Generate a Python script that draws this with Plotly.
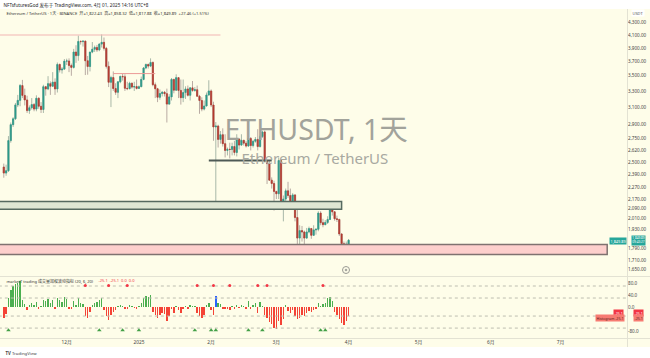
import math
import pandas as pd
import plotly.graph_objects as go

# ---------------- data ----------------
dates = pd.date_range('2024-11-04', '2025-04-01', freq='D')

opens = [2457, 2400, 2422, 2722, 2896, 2962, 3126, 3182, 3370, 3244, 3187, 3058, 3092, 3130, 3076, 3208, 3110, 3071, 3355, 3326, 3395, 3361, 3415, 3326, 3657, 3580, 3592,
         3705, 3707, 3642, 3616, 3838, 3785, 3999, 3996, 4004, 3710, 3628, 3837, 3880, 3907, 3870, 3958, 3985, 3893, 3630, 3413, 3476, 3331, 3283, 3419, 3492, 3487, 3334, 3330, 3400, 3350, 3357,
         3333, 3355, 3451, 3608, 3657, 3634, 3686, 3381, 3328, 3220, 3267, 3283, 3266, 3136, 3225, 3451, 3310, 3475, 3307, 3215, 3280, 3326, 3245, 3340, 3307, 3316, 3233, 3180, 3076, 3113, 3249,
         3300, 3125, 2870, 2880, 2735, 2785, 2690, 2620, 2632, 2630, 2660, 2600, 2740, 2675, 2725, 2695, 2665, 2745, 2670, 2715, 2735, 2660, 2765, 2815, 2515, 2490, 2335, 2305,
         2235, 2215, 2520, 2150, 2170, 2240, 2200, 2140, 2205, 2020, 1865, 1920, 1910, 1865, 1910, 1935, 1885, 1925, 1930, 2055, 1980, 1965, 1982, 2005, 2080, 2065, 2010, 2005, 1895, 1825, 1805,
         1822.43]
highs = [2490, 2480, 2770, 2920, 2980, 3150, 3250, 3390, 3445, 3330, 3240, 3120, 3210, 3150, 3245, 3220, 3160, 3380, 3365, 3495, 3425, 3550, 3465, 3685, 3670, 3620, 3735,
         3740, 3745, 3670, 3885, 3940, 4090, 4015, 4010, 4010, 3780, 3840, 3990, 3935, 3945, 3970, 4109, 4060, 3915, 3700, 3500, 3560, 3400, 3430, 3500, 3525, 3520, 3420, 3420, 3410, 3420, 3450,
         3370, 3490, 3620, 3670, 3670, 3745, 3700, 3410, 3340, 3320, 3300, 3300, 3330, 3260, 3470, 3460, 3520, 3480, 3450, 3450, 3360, 3370, 3350, 3430, 3350, 3370, 3250, 3220, 3180, 3280, 3440,
         3320, 3165, 2925, 2895, 2825, 2855, 2790, 2650, 2700, 2700, 2720, 2790, 2740, 2790, 2730, 2720, 2850, 2760, 2730, 2760, 2845, 2780, 2830, 2830, 2530, 2520, 2360, 2330,
         2240, 2550, 2530, 2200, 2260, 2320, 2260, 2220, 2210, 2150, 1960, 1955, 1920, 1940, 1950, 1940, 1960, 1935, 2070, 2070, 2010, 2000, 2030, 2095, 2104, 2070, 2035, 2010, 1900, 1840, 1840,
         1858.32]
lows = [2357, 2375, 2410, 2700, 2870, 2950, 3100, 3110, 3210, 3120, 3030, 3020, 3070, 3050, 3050, 3080, 3030, 3030, 3240, 3310, 3250, 3350, 3250, 3280, 3545, 3530, 3580,
        3650, 3550, 3500, 3600, 3680, 3710, 3950, 3920, 3510, 3515, 3560, 3820, 3840, 3840, 3850, 3905, 3860, 3600, 3350, 3100, 3300, 3250, 3210, 3400, 3435, 3300, 3310, 3320, 3330, 3300, 3320,
        3330, 3350, 3440, 3590, 3600, 3620, 3360, 3210, 3160, 3190, 3230, 3230, 2920, 3130, 3180, 3270, 3300, 3210, 3130, 3160, 3200, 3230, 3180, 3290, 3290, 3230, 3020, 3050, 3060, 3110, 3240,
        3100, 2720, 2120, 2650, 2690, 2660, 2550, 2570, 2540, 2570, 2570, 2560, 2630, 2670, 2670, 2650, 2660, 2620, 2650, 2700, 2620, 2650, 2750, 2500, 2300, 2330, 2260, 2075,
        2170, 2170, 2110, 1990, 2150, 2180, 2100, 2130, 1990, 1810, 1755, 1840, 1820, 1860, 1900, 1860, 1880, 1890, 1915, 1960, 1945, 1960, 1970, 2000, 2035, 1995, 1985, 1880, 1805, 1765, 1780,
        1817.88]
closes = [2400, 2422, 2722, 2896, 2962, 3126, 3182, 3370, 3244, 3187, 3058, 3092, 3130, 3076, 3208, 3110, 3071, 3355, 3326, 3395, 3361, 3415, 3326, 3657, 3580, 3592, 3705,
          3707, 3642, 3616, 3838, 3785, 3999, 3996, 4004, 3710, 3628, 3837, 3880, 3907, 3870, 3958, 3985, 3893, 3630, 3413, 3476, 3331, 3283, 3419, 3492, 3487, 3334, 3330, 3400, 3350, 3357, 3333,
          3355, 3451, 3608, 3657, 3634, 3686, 3381, 3328, 3220, 3267, 3283, 3266, 3136, 3225, 3451, 3310, 3475, 3307, 3215, 3280, 3326, 3245, 3340, 3307, 3316, 3233, 3180, 3076, 3113, 3249, 3300,
          3125, 2870, 2880, 2735, 2785, 2690, 2620, 2632, 2630, 2660, 2600, 2740, 2675, 2725, 2695, 2665, 2745, 2670, 2715, 2735, 2660, 2765, 2815, 2515, 2490, 2335, 2305, 2235,
          2215, 2520, 2150, 2170, 2240, 2200, 2140, 2205, 2020, 1865, 1920, 1910, 1865, 1910, 1935, 1885, 1925, 1930, 2055, 1980, 1965, 1982, 2005, 2080, 2065, 2010, 2005, 1895, 1825, 1805, 1822,
          1849.89]

hist = [-37, -22, 30, 57, 70, 76, 80, 86, 22, 10, -10, 6, 14, 8, 18, -6, 4, 25, 20, 28, 15, 25, -8, 30, 22, 18, 35,
        28, -5, -8, 20, 8, 30, 15, 10, -30, -37, -15, 8, 12, 18, 25, 30, -10, -30, -42, -25, -15, -10, 5, 8, 4, -8, -6, 6, 3, -4, -6,
        5, 15, 30, 38, 35, 40, -15, -25, -35, -28, -20, -22, -45, -30, -5, -20, 5, -10, -20, -8, 5, -5, 8, 5, 3, -20, -30, -38, -25, 8, 12,
        -10, -27, 37, 15, 10, -5, -8, -6, -10, 5, -8, 8, -4, 8, 5, -5, 20, -6, 8, 12, -20, 18, 5, -25, -35, -50, -58, -70,
        -72, -45, -60, -40, 8, -12, -20, -10, -30, -40, -35, -25, -30, -20, -12, -18, -10, -8, 12, 5, 10, 15, 30, 34, 20, -15, -25, -40, -52, -60, -48,
        -30]
highlight_dates = ['2025-02-03']
sell_dots = ['2024-12-09', '2024-12-19', '2024-12-27', '2025-01-26', '2025-02-02', '2025-02-09', '2025-02-21', '2025-02-25', '2025-03-21']
buy_marks = ['2024-11-06', '2024-12-15', '2024-12-25', '2025-01-01', '2025-01-25', '2025-02-01', '2025-02-03', '2025-02-17', '2025-02-23', '2025-03-20', '2025-03-22']
sell_level = 72
buy_level = -77
guide_levels = [70, 30, -30, -70]

price_ticks = [4300, 4100, 3900, 3700, 3500, 3300, 3100, 2900, 2750, 2620, 2500, 2390, 2270, 2170, 2090, 2010, 1930, 1790, 1710, 1650]
osc_ticks = [80, 40, 0, -80]
month_ticks = ['2024-12-01', '2025-01-01', '2025-02-01', '2025-03-01', '2025-04-01', '2025-05-01', '2025-06-01', '2025-07-01']
month_labels = ['12月', '2025', '2月', '3月', '4月', '5月', '6月', '7月']

support_zone = [1750, 1820]
support_end = '2025-07-21'
resist_zone = [2085, 2150]
resist_end = '2025-03-29'
level_line = [2520, '2025-01-31', '2025-02-27']
top_line = [4100, '2024-10-20', '2025-02-05']
mid_line = [3530, '2024-12-21', '2025-01-08']

# ---------------- geometry helpers ----------------
W, H = 650, 358
def px(x):
    return x / W
def py(y):
    return 1 - y / H

x_range = ['2024-11-02 09:00', '2025-07-29 12:00']
y_range = [math.log10(1610), math.log10(4535)]
far_left = '2024-10-20'
far_right = '2025-08-10'

BG = '#fefde9'
TXT = '#3b3b3b'
FONT = 'Noto Sans, Noto Sans CJK SC, sans-serif'

fig = go.Figure()

# zones
fig.add_trace(go.Scatter(
    x=[far_left, support_end, support_end, far_left, far_left],
    y=[support_zone[0], support_zone[0], support_zone[1], support_zone[1], support_zone[0]],
    fill='toself', fillcolor='#fdcfcc', line=dict(color='#7f7270', width=1.5),
    mode='lines', hoverinfo='skip', xaxis='x', yaxis='y'))
fig.add_trace(go.Scatter(
    x=[far_left, resist_end, resist_end, far_left, far_left],
    y=[resist_zone[0], resist_zone[0], resist_zone[1], resist_zone[1], resist_zone[0]],
    fill='toself', fillcolor='#dfe7d4', line=dict(color='#566a60', width=1.5),
    mode='lines', hoverinfo='skip', xaxis='x', yaxis='y'))
fig.add_trace(go.Scatter(x=[top_line[1], top_line[2]], y=[top_line[0]] * 2, mode='lines',
                         line=dict(color='#f2b6b3', width=1.2), hoverinfo='skip'))
fig.add_trace(go.Scatter(x=[mid_line[1], mid_line[2]], y=[mid_line[0]] * 2, mode='lines',
                         line=dict(color='#ec9a96', width=1), hoverinfo='skip'))
fig.add_trace(go.Scatter(x=[level_line[1], level_line[2]], y=[level_line[0]] * 2, mode='lines',
                         line=dict(color='#4e5a56', width=2.2), hoverinfo='skip'))

# candles: wicks
fig.add_trace(go.Candlestick(
    x=dates, open=opens, high=highs, low=lows, close=closes,
    increasing=dict(line=dict(color='#a9b8a8', width=1), fillcolor='#a9b8a8'),
    decreasing=dict(line=dict(color='#b9aba3', width=1), fillcolor='#b9aba3'),
    whiskerwidth=0, hoverinfo='skip', xaxis='x', yaxis='y'))
# candles: bodies
body_hi = [max(o, c) for o, c in zip(opens, closes)]
body_lo = [min(o, c) for o, c in zip(opens, closes)]
fig.add_trace(go.Candlestick(
    x=dates, open=opens, high=body_hi, low=body_lo, close=closes,
    increasing=dict(line=dict(color='#2b9a8a', width=0.6), fillcolor='#2b9a8a'),
    decreasing=dict(line=dict(color='#b3392e', width=0.6), fillcolor='#b3392e'),
    whiskerwidth=0, hoverinfo='skip', xaxis='x', yaxis='y'))

# oscillator guide lines
for lv in guide_levels:
    fig.add_trace(go.Scatter(x=[far_left, far_right], y=[lv, lv], mode='lines',
                             line=dict(color='#bdbdb0', width=1, dash='dot'),
                             hoverinfo='skip', xaxis='x2', yaxis='y2'))

bar_colors = []
for d, v in zip(dates, hist):
    if d.strftime('%Y-%m-%d') in highlight_dates:
        bar_colors.append('#2962ff')
    elif v >= 0:
        bar_colors.append('#4caf50')
    else:
        bar_colors.append('#f44336')
fig.add_trace(go.Bar(x=dates, y=hist, marker=dict(color=bar_colors, line=dict(width=0)),
                     width=0.62 * 86400000, hoverinfo='skip', xaxis='x2', yaxis='y2'))
fig.add_trace(go.Scatter(x=sell_dots, y=[sell_level] * len(sell_dots), mode='markers',
                         marker=dict(symbol='circle', size=3, color='#f23645'),
                         hoverinfo='skip', xaxis='x2', yaxis='y2'))
fig.add_trace(go.Scatter(x=buy_marks, y=[buy_level] * len(buy_marks), mode='markers',
                         marker=dict(symbol='triangle-up', size=4, color='#43a047'),
                         hoverinfo='skip', xaxis='x2', yaxis='y2'))

# ---------------- layout ----------------
main_dom = [py(276), py(9)]
osc_dom = [py(338), py(277)]
x_dom = [0, px(627)]

shapes = [
    dict(type='rect', xref='paper', yref='paper', x0=0, x1=1, y0=py(347), y1=py(9),
         fillcolor=BG, line=dict(width=0), layer='below'),
    dict(type='line', xref='paper', yref='paper', x0=0, x1=1, y0=py(276.5), y1=py(276.5),
         line=dict(color='#e3e2d3', width=1)),
    dict(type='line', xref='paper', yref='paper', x0=0, x1=1, y0=py(338.5), y1=py(338.5),
         line=dict(color='#e3e2d3', width=1)),
    dict(type='line', xref='paper', yref='paper', x0=px(627.5), x1=px(627.5), y0=py(347), y1=py(9),
         line=dict(color='#e3e2d3', width=1)),
    dict(type='circle', xref='paper', yref='paper', x0=px(342.5), x1=px(349.5), y0=py(273.5), y1=py(266.5),
         line=dict(color='#9a9a94', width=1)),
    dict(type='circle', xref='paper', yref='paper', x0=px(345), x1=px(347), y0=py(271), y1=py(269),
         fillcolor='#9a9a94', line=dict(color='#9a9a94', width=0.5)),
]

def ann(x, y, text, size=4.5, color=TXT, xanchor='left', bg=None, **kw):
    d = dict(xref='paper', yref='paper', x=px(x), y=py(y), text=text, showarrow=False,
             xanchor=xanchor, yanchor='middle', font=dict(size=size, color=color, family=FONT),
             borderpad=0.5)
    if bg:
        d['bgcolor'] = bg
    d.update(kw)
    return d

annotations = [
    ann(2, 4.5, 'NFTsfuturesGod 发布于 TradingView.com, 4月 01, 2025 14:16 UTC+8', size=4.6, color='#222'),
    ann(5, 13, 'Ethereum / TetherUS · 1天 · BINANCE  开=1,822.43  高=1,858.32  低=1,817.88  收=1,849.89  +27.46 (+1.51%)',
        size=4.1, color='#333'),
    ann(316, 128, 'ETHUSDT, 1天', size=28.5, color='#a2a39b', xanchor='center'),
    ann(315, 158, 'Ethereum / TetherUS', size=15, color='#a8a9a1', xanchor='center'),
    ann(638, 13, 'USDT', size=4, color='#555', xanchor='center', bg='#ffffff'),
    ann(618, 240.5, '1,849.89', size=3.8, color='#ffffff', xanchor='center', bg='#26a69a'),
    ann(638.5, 240.6, '1,849.89<br>09:43:27', size=3.1, color='#ffffff', xanchor='center', bg='#26a69a',
        borderpad=0.3),
    ann(5, 280, 'marketT trading 成交量加权波动指标 (20, 6, 20)', size=4, color='#333'),
    ann(97, 280, '-25.1  -25.1  0.0  0.0', size=4, color='#f23645'),
    ann(618, 312.8, '-25.1', size=3.6, color='#ffffff', xanchor='center', bg='#f23645'),
    ann(638.5, 312.8, '-25.1', size=3.6, color='#ffffff', xanchor='center', bg='#f23645'),
    ann(610, 318.2, 'Histogram -25.1', size=3.6, color='#5a1d1a', xanchor='center', bg='#f77b72'),
    ann(638.5, 318.2, '-25.1', size=3.6, color='#5a1d1a', xanchor='center', bg='#f77b72'),
    ann(4, 352, '<b>TV</b> TradingView', size=4.3, color='#444'),
]

fig.update_layout(
    width=W, height=H, autosize=False,
    margin=dict(l=0, r=0, t=0, b=0, pad=0),
    paper_bgcolor='#ffffff', plot_bgcolor='rgba(0,0,0,0)',
    showlegend=False, hovermode=False, bargap=0,
    font=dict(family=FONT, color=TXT),
    xaxis=dict(domain=x_dom, range=x_range, type='date', anchor='y', showticklabels=False,
               showgrid=False, zeroline=False, showline=False, ticks='',
               rangeslider=dict(visible=False), fixedrange=True, automargin=False),
    yaxis=dict(domain=main_dom, type='log', range=y_range,
               anchor='x', side='right', tickvals=price_ticks,
               ticktext=[f'{v:,.2f}' for v in price_ticks],
               tickfont=dict(size=4.6, color='#444', family=FONT),
               showgrid=False, zeroline=False, showline=False, ticks='', ticklen=0,
               fixedrange=True, automargin=False),
    xaxis2=dict(domain=x_dom, range=x_range, type='date', anchor='y2',
                tickvals=month_ticks, ticktext=month_labels,
                tickfont=dict(size=4.8, color='#444', family=FONT),
                showgrid=False, zeroline=False, showline=False, ticks='', fixedrange=True,
                automargin=False),
    yaxis2=dict(domain=osc_dom, range=[-103, 100], anchor='x2', side='right',
                tickvals=osc_ticks, ticktext=[f'{v:.1f}' for v in osc_ticks],
                tickfont=dict(size=4.6, color='#444', family=FONT),
                showgrid=False, zeroline=False, showline=False, ticks='', fixedrange=True,
                automargin=False),
    shapes=shapes,
    annotations=annotations,
)

fig.write_html('out.html', config=dict(displayModeBar=False, staticPlot=True),
               post_script="document.body.style.margin='0';document.body.style.padding='0';document.body.style.overflow='hidden';")
